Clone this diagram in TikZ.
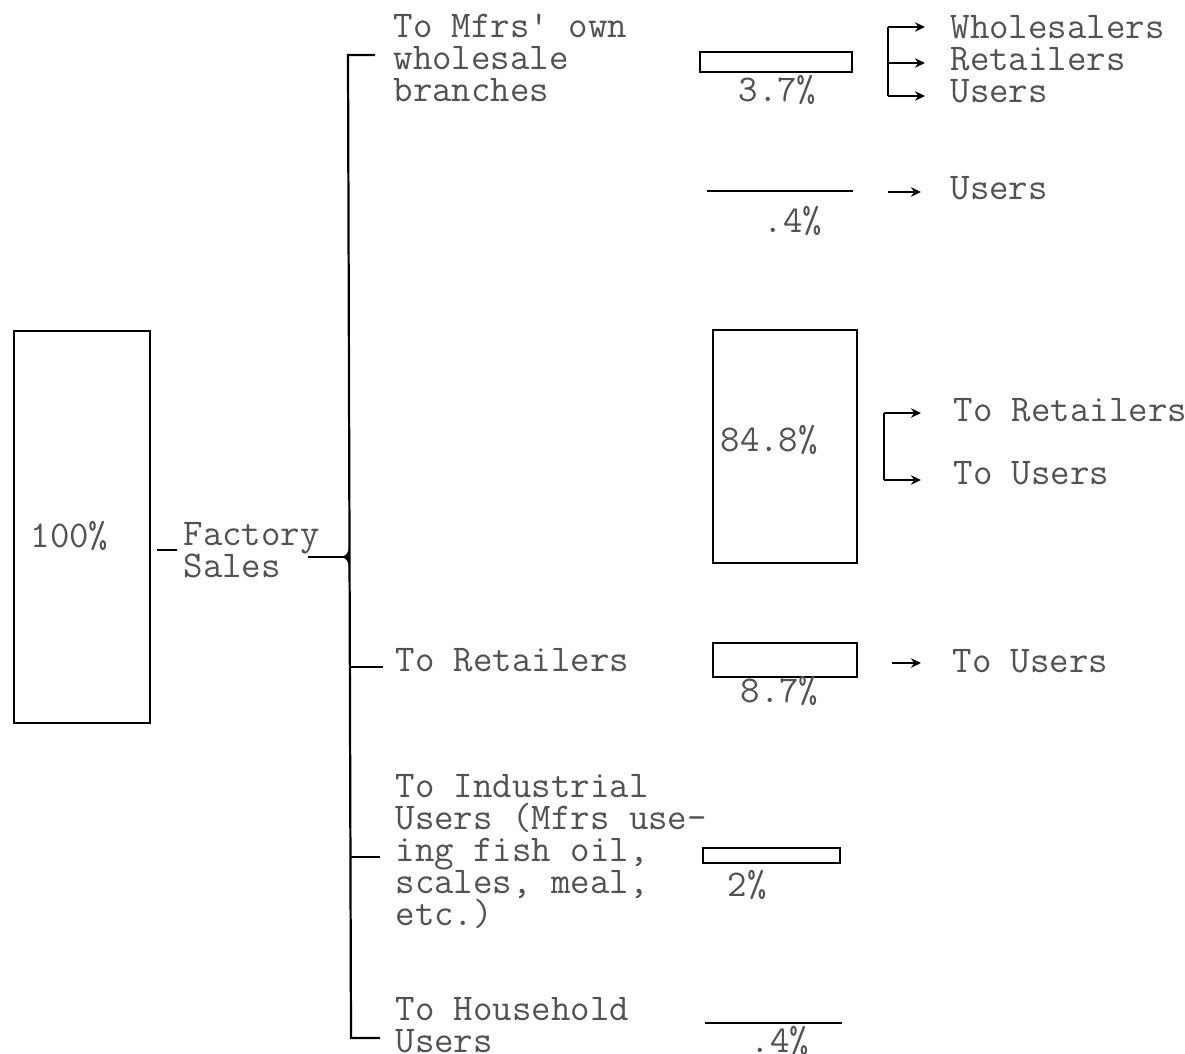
\documentclass[tikz,border=0pt]{standalone}
\usepackage{fontspec}
\usetikzlibrary{arrows.meta,fit}
\tikzset{
  txt/.style={font=\ttfamily\fontsize{13.6}{11.6}\selectfont, text=black!68, inner sep=0pt, anchor=base west, align=left},
  bar/.style={draw, inner sep=0pt, line width=0.8pt},
  ln/.style={line width=0.8pt},
  arr/.style={line width=0.7pt, -{Stealth[length=3.6pt,width=3.4pt]}}
}
\begin{document}
\begin{tikzpicture}[x=0.36pt,y=-0.36pt]
\useasboundingbox[fill=white] (0,0) rectangle (1185,1054);

% main box
\node[bar, fit={(14,331) (150,723)}] (total) {};
\node[txt] (p100) at (30,548) {100\%};
\node[txt] (fs) at (183,578) {Factory\\Sales};
\coordinate (d1) at (157,550);
\coordinate (d2) at (177,550);
\draw[ln] (d1) -- (d2);

% spine
\coordinate (sTop) at (348,55);
\coordinate (sBot) at (351,1038);
\coordinate (tTop) at (375,55);
\coordinate (tBot) at (380,1038);
\coordinate (jn) at (349,557);
\coordinate (fsEnd) at (308,557);
\draw[ln] (tTop) -- (sTop) -- (sBot) -- (tBot);
\draw[ln] (fsEnd) -- (jn);
\fill (349,546) .. controls (349,553) and (346,557) .. (339,557)
      .. controls (346,557) and (349,561) .. (349,568) -- cycle;
\coordinate (rt1) at (350,667); \coordinate (rt2) at (383,667);
\draw[ln] (rt1) -- (rt2);
\coordinate (in1) at (350,857); \coordinate (in2) at (380,857);
\draw[ln] (in1) -- (in2);

% branch labels
\node[txt] (mfrs) at (393,102) {To Mfrs\textquotesingle{} own\\wholesale\\branches};
\node[txt] (toret) at (395,672) {To Retailers};
\node[txt] (ind) at (395,926) {To Industrial\\Users (Mfrs use-\\ing fish oil,\\scales, meal,\\etc.)};
\node[txt] (hh) at (395,1053) {To Household\\Users};

% bars
\node[bar, fit={(700,52) (852,72)}] (b37) {};
\node[txt] (p37) at (738,102) {3.7\%};
\coordinate (l4a) at (707,191); \coordinate (l4b) at (853,191);
\draw[ln] (l4a) -- (l4b);
\node[txt] (p04a) at (763,233) {.4\%};
\node[bar, fit={(713,330) (857,563)}] (b848) {};
\node[txt] (p848) at (720,452) {84.8\%};
\node[bar, fit={(713,643) (857,677)}] (b87) {};
\node[txt] (p87) at (740,703) {8.7\%};
\node[bar, fit={(703,848) (840,863)}] (b2) {};
\node[txt] (p2) at (727,897) {2\%};
\coordinate (l4c) at (705,1023); \coordinate (l4d) at (842,1023);
\draw[ln] (l4c) -- (l4d);
\node[txt] (p04b) at (750,1053) {.4\%};

% right side destinations
\node[txt] (wru) at (950,103) {Wholesalers\\Retailers\\Users};
\coordinate (k1) at (888,27); \coordinate (k2) at (888,63); \coordinate (k3) at (888,96);
\coordinate (e1) at (925,27); \coordinate (e2) at (925,63); \coordinate (e3) at (925,96);
\draw[ln] (k1) -- (k3);
\draw[arr] (k1) -- (e1);
\draw[arr] (k2) -- (e2);
\draw[arr] (k3) -- (e3);

\node[txt] (u1) at (950,200) {Users};
\coordinate (a1) at (888,192); \coordinate (a2) at (921,192);
\draw[arr] (a1) -- (a2);

\node[txt] (tr2) at (953,422) {To Retailers};
\node[txt] (tu2) at (953,485) {To Users};
\coordinate (c1) at (884,413); \coordinate (c2) at (884,480);
\coordinate (c3) at (921,413); \coordinate (c4) at (921,480);
\draw[ln] (c1) -- (c2);
\draw[arr] (c1) -- (c3);
\draw[arr] (c2) -- (c4);

\node[txt] (tu3) at (952,673) {To Users};
\coordinate (f1) at (892,663); \coordinate (f2) at (921,663);
\draw[arr] (f1) -- (f2);
\end{tikzpicture}
\end{document}
